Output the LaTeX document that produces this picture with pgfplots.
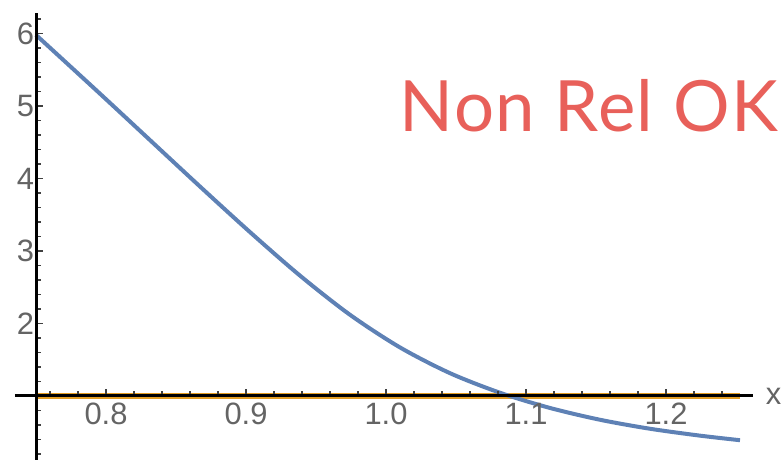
\documentclass[border=0pt]{standalone}
\usepackage{pgfplots}
\pgfplotsset{compat=1.18}
\usepackage{fontspec}
\setmainfont{Liberation Sans}
\newfontfamily\labelfont[LetterSpace=2]{Lato}
\definecolor{mblue}{RGB}{94,129,181}
\definecolor{morange}{RGB}{225,156,36}
\definecolor{mred}{RGB}{232,96,90}
\definecolor{tickgray}{RGB}{100,100,100}
\begin{document}
\begin{tikzpicture}
\begin{axis}[
  x=1400bp, y=72.5bp,
  xmin=0.735, xmax=1.262, ymin=0.1172, ymax=6.28,
  enlargelimits=false,
  axis x line*=bottom, axis y line*=left,
  axis x line shift={-64.5bp},
  axis y line shift={-21.7bp},
  axis line style={black, line width=2.6bp},
  axis on top,
  clip=false,
  xtick={0.8,0.9,1.0,1.1,1.2},
  xticklabels={0.8,0.9,1.0,1.1,1.2},
  minor xtick={0.76,0.78,0.82,0.84,0.86,0.88,0.92,0.94,0.96,0.98,1.02,1.04,1.06,1.08,1.12,1.14,1.16,1.18,1.22,1.24},
  ytick={2,3,4,5,6},
  minor ytick={0.2,0.4,0.6,0.8,1.2,1.4,1.6,1.8,2.2,2.4,2.6,2.8,3.2,3.4,3.6,3.8,4.2,4.4,4.6,4.8,5.2,5.4,5.6,5.8,6.2},
  tick align=inside,
  major tick length=6bp, minor tick length=4bp,
  every tick/.style={black!75, line width=1.8bp},
  tick label style={font=\fontsize{31}{36}\selectfont, text=tickgray},
  /pgf/number format/assume math mode=true,
  xticklabel style={yshift=-4bp},
  yticklabel style={xshift=1bp},
  xlabel={x},
  xlabel style={at={(axis description cs:1.0163,0.1429)}, anchor=west, font=\fontsize{31}{36}\selectfont, text=tickgray, inner sep=1bp},
]
\addplot[morange, line width=6.2bp] coordinates {(0.75,1) (1.2529,1)};
\addplot[mblue, line width=4bp, smooth] coordinates {
(0.7500,5.98) (0.7957,5.17) (0.8314,4.53) (0.8671,3.89) (0.9029,3.26)
(0.9386,2.66) (0.9743,2.12) (1.0100,1.67) (1.0457,1.315) (1.0814,1.045)
(1.1171,0.835) (1.1529,0.672) (1.1886,0.548) (1.2243,0.453) (1.2529,0.39)};
\node[text=mred, font=\labelfont\fontsize{71}{80}\selectfont] at (axis cs:1.145,5.01) {Non Rel OK};
\coordinate (bl) at (axis cs:0.7243,0.1172);
\coordinate (tr) at (axis cs:1.2836,6.462);
\end{axis}
\pgfresetboundingbox
\useasboundingbox (bl) rectangle (tr);
\end{tikzpicture}
\end{document}
